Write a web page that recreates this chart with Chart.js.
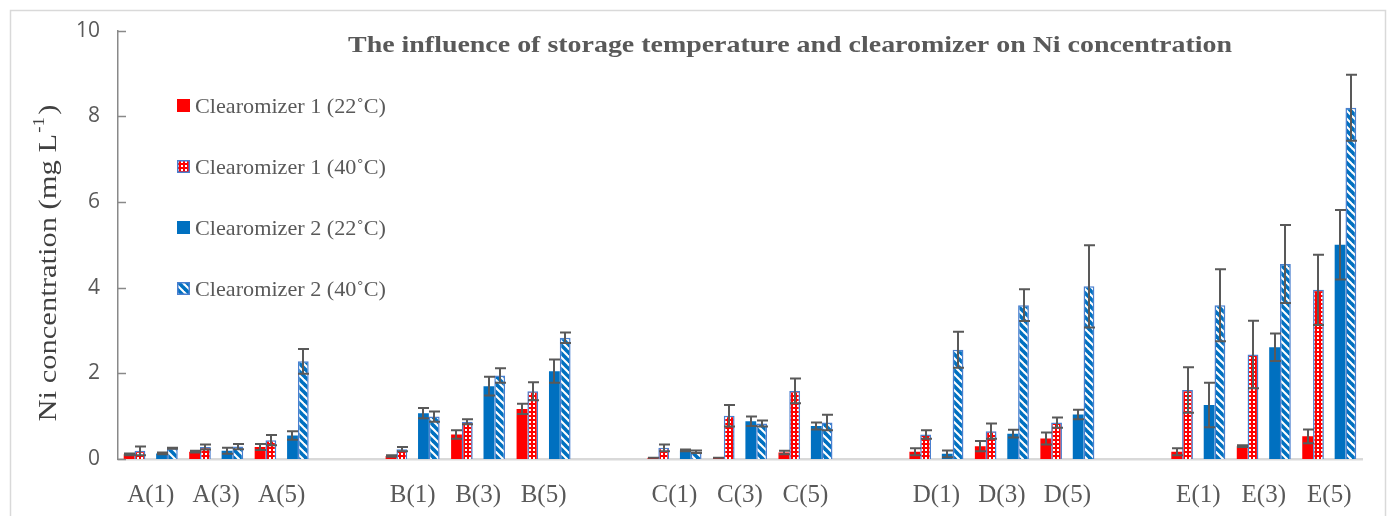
<!DOCTYPE html>
<html>
<head>
<meta charset="utf-8">
<script src="https://cdn.jsdelivr.net/npm/chart.js@4.4.1/dist/chart.umd.min.js"></script>
<style>
  html, body { margin: 0; padding: 0; background: #ffffff; }
  #wrap { width: 1391px; height: 516px; }
</style>
</head>
<body>
<div id="wrap"><canvas id="c" width="1391" height="516"></canvas></div>
<script>
// ---------------- DATA ----------------
const categories = ['A(1)','A(3)','A(5)','','B(1)','B(3)','B(5)','','C(1)','C(3)','C(5)','','D(1)','D(3)','D(5)','','E(1)','E(3)','E(5)'];
const seriesNames = ['Clearomizer 1 (22˚C)','Clearomizer 1 (40˚C)','Clearomizer 2 (22˚C)','Clearomizer 2 (40˚C)'];

const c1_22     = [0.11,0.17,0.28,null, 0.07,0.57,1.17,null, 0.03,0.03,0.15,null, 0.17,0.30,0.48,null, 0.17,0.30,0.53];
const c1_22_err = [0.02,0.02,0.07,null, 0.02,0.10,0.12,null, 0.00,0.00,0.04,null, 0.08,0.12,0.14,null, 0.08,0.02,0.16];
const c1_40     = [0.19,0.28,0.44,null, 0.23,0.87,1.58,null, 0.26,1.01,1.59,null, 0.57,0.65,0.85,null, 1.61,2.44,3.95];
const c1_40_err = [0.10,0.06,0.12,null, 0.05,0.06,0.21,null, 0.08,0.25,0.29,null, 0.10,0.18,0.12,null, 0.53,0.79,0.82];
const c2_22     = [0.13,0.19,0.55,null, 1.07,1.70,2.05,null, 0.20,0.88,0.77,null, 0.12,0.59,1.04,null, 1.26,2.61,5.00];
const c2_22_err = [0.02,0.07,0.10,null, 0.12,0.22,0.27,null, 0.02,0.11,0.08,null, 0.08,0.09,0.11,null, 0.52,0.32,0.81];
const c2_40     = [0.25,0.29,2.28,null, 0.99,1.95,2.83,null, 0.17,0.83,0.85,null, 2.55,3.59,4.03,null, 3.59,4.55,8.20];
const c2_40_err = [0.01,0.06,0.29,null, 0.12,0.17,0.12,null, 0.03,0.07,0.18,null, 0.42,0.37,0.96,null, 0.84,0.91,0.77];

const yTicks = [0,2,4,6,8,10];
const chartTitle = 'The influence of storage temperature and clearomizer on Ni concentration';
const yTitleMain = 'Ni concentration (mg L';
const yTitleSup = '-1';
const yTitleEnd = ')';

// ---------------- STYLE ----------------
const RED = '#FF0000';
const BLUE = '#0070C0';
const EDGE = '#4A7FCF';
const TXT = '#595959';
const SERIF = '"Liberation Serif", "DejaVu Serif", serif';
const SANS = '"Open Sans", "Noto Sans", sans-serif';

function checkerPattern() {
  const cv = document.createElement('canvas');
  cv.width = 4; cv.height = 4;
  const g = cv.getContext('2d');
  g.fillStyle = RED; g.fillRect(0,0,4,4);
  g.fillStyle = '#ffffff';
  g.fillRect(1,1,2,2);
  return g.createPattern(cv, 'repeat');
}
function stripePattern() {
  const s = 8;
  const cv = document.createElement('canvas');
  cv.width = s; cv.height = s;
  const g = cv.getContext('2d');
  g.fillStyle = '#ffffff'; g.fillRect(0,0,s,s);
  g.strokeStyle = BLUE; g.lineWidth = 3.6;
  for (const c of [-s, 0, s]) {
    g.beginPath(); g.moveTo(-2, -2 + c); g.lineTo(s + 2, s + 2 + c); g.stroke();
  }
  return g.createPattern(cv, 'repeat');
}
const patCheck = checkerPattern();
const patStripe = stripePattern();

const errs = [c1_22_err, c1_40_err, null, c2_22_err, c2_40_err];

const datasets = [
  { label: seriesNames[0], data: c1_22, backgroundColor: RED, borderWidth: 0 },
  { label: seriesNames[1], data: c1_40, backgroundColor: patCheck, borderColor: EDGE, borderWidth: 1.5 },
  { label: '', data: categories.map(() => null), backgroundColor: 'rgba(0,0,0,0)' },
  { label: seriesNames[2], data: c2_22, backgroundColor: BLUE, borderWidth: 0 },
  { label: seriesNames[3], data: c2_40, backgroundColor: patStripe, borderColor: EDGE, borderWidth: 1.5 }
];

// draw text stretched horizontally to a target width
function fitText(ctx, text, x, y, target) {
  const w = ctx.measureText(text).width;
  const k = target / w;
  ctx.save();
  ctx.translate(x, y);
  ctx.scale(k, 1);
  ctx.fillText(text, 0, 0);
  ctx.restore();
  return w * k;
}

const decorPlugin = {
  id: 'decor',
  beforeDraw(chart) {
    const ctx = chart.ctx;
    ctx.save();
    ctx.fillStyle = '#ffffff';
    ctx.fillRect(0, 0, chart.width, chart.height);
    ctx.strokeStyle = '#D9D9D9'; ctx.lineWidth = 1.5;
    ctx.strokeRect(10.5, 10.5, 1375, 530);
    ctx.restore();
  },
  afterDatasetsDraw(chart) {
    const ctx = chart.ctx;
    const y = chart.scales.y;
    ctx.save();
    ctx.strokeStyle = '#595959';
    ctx.lineWidth = 2;
    errs.forEach((e, di) => {
      if (!e) return;
      const meta = chart.getDatasetMeta(di);
      const vals = chart.data.datasets[di].data;
      meta.data.forEach((el, j) => {
        const v = vals[j];
        if (v === null || v === undefined || e[j] === null) return;
        const x = Math.round(el.x);
        const half = 5;
        const top = y.getPixelForValue(v + e[j]);
        const bot = y.getPixelForValue(Math.max(0, v - e[j]));
        ctx.beginPath();
        ctx.moveTo(x, top); ctx.lineTo(x, bot);
        ctx.moveTo(x - half, top); ctx.lineTo(x + half + 1, top);
        ctx.moveTo(x - half, bot); ctx.lineTo(x + half + 1, bot);
        ctx.stroke();
      });
    });
    // inward y ticks
    ctx.strokeStyle = '#898989'; ctx.lineWidth = 1.5;
    const left = chart.chartArea.left;
    yTicks.forEach(t => {
      const py = Math.round(y.getPixelForValue(t)) + 0.5;
      ctx.beginPath(); ctx.moveTo(left, py); ctx.lineTo(left + 8, py); ctx.stroke();
    });
    ctx.restore();
  },
  afterDraw(chart) {
    const ctx = chart.ctx;
    ctx.save();
    // title
    ctx.fillStyle = TXT;
    ctx.font = 'bold 24px ' + SERIF;
    ctx.textAlign = 'left'; ctx.textBaseline = 'middle';
    fitText(ctx, chartTitle, 348, 46, 884);
    // legend
    const items = [0, 1, 3, 4];
    const ys = [106, 167, 228, 289];
    ctx.font = '21px ' + SERIF;
    ctx.textAlign = 'left';
    items.forEach((di, k) => {
      const ds = chart.data.datasets[di];
      const bx = 177, by = ys[k] - 7, bs = 13;
      ctx.fillStyle = ds.backgroundColor;
      ctx.fillRect(bx, by, bs, bs);
      if (ds.borderWidth) {
        ctx.strokeStyle = EDGE; ctx.lineWidth = 1.5;
        ctx.strokeRect(bx + 0.75, by + 0.75, bs - 1.5, bs - 1.5);
      }
      ctx.fillStyle = TXT;
      fitText(ctx, ds.label, 195, ys[k] + 1, 191);
    });
    // y title (rotated)
    ctx.translate(47, 263);
    ctx.rotate(-Math.PI / 2);
    ctx.font = '26px ' + SERIF;
    const w1 = ctx.measureText(yTitleMain).width;
    ctx.font = '16px ' + SERIF;
    const w2 = ctx.measureText(yTitleSup).width;
    ctx.font = '26px ' + SERIF;
    const w3 = ctx.measureText(yTitleEnd).width;
    const total = w1 + w2 + w3 + 3;
    const k = 317 / total;
    ctx.scale(k, 1);
    let x0 = -total / 2;
    ctx.textAlign = 'left'; ctx.textBaseline = 'alphabetic';
    ctx.fillStyle = '#404040';
    ctx.fillText(yTitleMain, x0, 9);
    ctx.font = '16px ' + SERIF;
    ctx.fillText(yTitleSup, x0 + w1 + 1, -3);
    ctx.font = '26px ' + SERIF;
    ctx.fillText(yTitleEnd, x0 + w1 + w2 + 3, 9);
    ctx.restore();
  }
};

new Chart(document.getElementById('c'), {
  type: 'bar',
  data: { labels: categories, datasets },
  options: {
    responsive: false,
    animation: false,
    events: [],
    layout: { padding: { top: 25, right: 29, left: 0, bottom: 0 } },
    datasets: { bar: { categoryPercentage: 0.825, barPercentage: 1.0 } },
    plugins: { legend: { display: false }, title: { display: false }, tooltip: { enabled: false } },
    scales: {
      x: {
        type: 'category',
        grid: { display: false, drawTicks: false },
        border: { display: true, color: '#D9D9D9', width: 2.5 },
        ticks: { autoSkip: false, maxRotation: 0, minRotation: 0, padding: 21, color: TXT, font: { family: SERIF, size: 25 } },
        afterFit(s) { s.height = 57; }
      },
      y: {
        min: 0, max: 10,
        afterBuildTicks(s) { s.ticks = yTicks.map(v => ({ value: v })); },
        grid: { display: false, drawTicks: false },
        border: { display: true, color: '#898989', width: 1.5 },
        ticks: { padding: 18, color: TXT, font: { family: SANS, size: 21 } },
        afterFit(s) { s.width = 118; }
      }
    }
  },
  plugins: [decorPlugin]
});
</script>
</body>
</html>
